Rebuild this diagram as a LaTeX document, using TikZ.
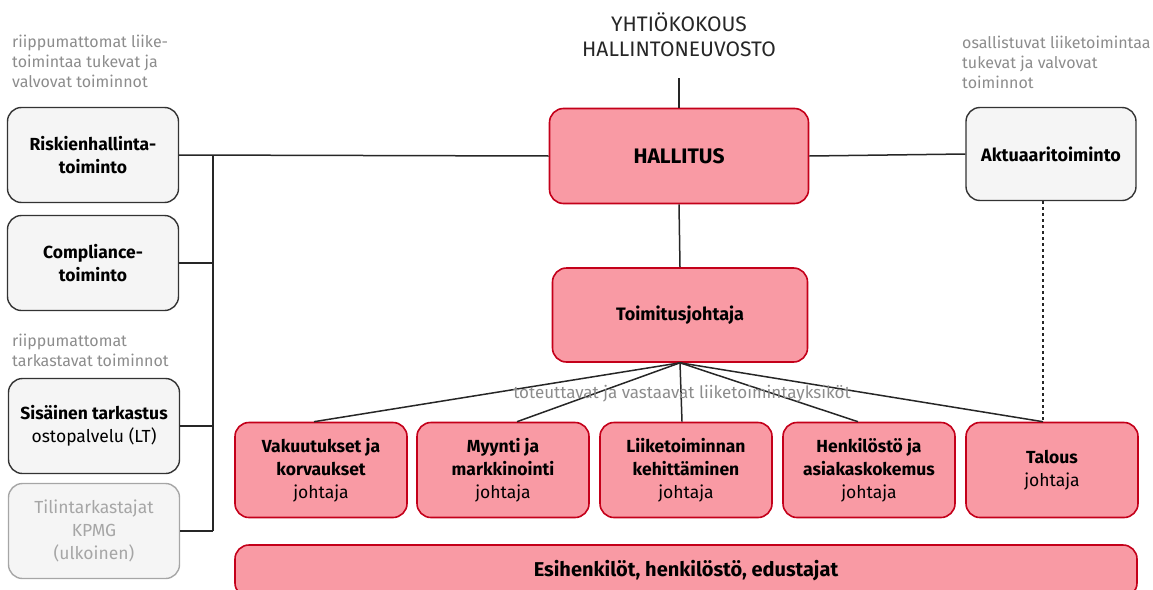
\documentclass[tikz,border=0pt]{standalone}
\usepackage{fontspec}
\setmainfont{Fira Sans}
\usetikzlibrary{positioning}
\definecolor{unitfill}{HTML}{F99AA4}
\definecolor{unitdraw}{HTML}{C4001A}
\definecolor{supfill}{HTML}{F5F5F5}
\definecolor{notegray}{HTML}{8C8C8C}
\definecolor{extgray}{HTML}{A6A6A6}
\newcommand\boxfont{\fontsize{17.5}{23}\selectfont}
\newcommand\notefont{\fontsize{16}{20}\selectfont}
\begin{document}
\begin{tikzpicture}[x=1pt,y=-1pt,
  unit/.style={draw=unitdraw,fill=unitfill,line width=1.6pt,rounded corners=14pt,
    align=center,minimum width=172pt,minimum height=95pt,font=\boxfont},
  side/.style={draw=black!80,fill=supfill,line width=1.4pt,rounded corners=14pt,
    align=center,minimum width=171pt,minimum height=95pt,font=\boxfont},
  note/.style={text=notegray,align=left,font=\notefont,inner sep=0pt},
  link/.style={draw=black!85,line width=1.5pt}]
\useasboundingbox (0,0) rectangle (1153,589);
% top
\node[align=center,font=\fontsize{21}{25}\selectfont,text=black!85,inner sep=0pt] (meeting) at (679,35) {YHTIÖKOKOUS\\HALLINTONEUVOSTO};
\coordinate (meetfoot) at (679,78);
\node[unit,minimum width=259pt,font=\fontsize{21}{22}\selectfont\bfseries] (board) at (679,156) {HALLITUS};
\node[unit,minimum width=255pt,minimum height=94pt,font=\fontsize{18}{22}\selectfont\bfseries] (ceo) at (680,315) {Toimitusjohtaja};
\node[side,minimum width=170pt,minimum height=93pt,font=\fontsize{18}{22}\selectfont] (actuary) at (1051,154) {\bfseries Aktuaaritoiminto};
% left side
\node[side] (risk) at (93,155) {\bfseries Riskienhallinta-\\\bfseries toiminto};
\node[side] (compl) at (93,263) {\bfseries Compliance-\\\bfseries toiminto};
\node[side] (audit) at (94,426) {\bfseries Sisäinen tarkastus\\ostopalvelu (LT)};
\node[side,draw=extgray,text=extgray] (extaudit) at (94,531) {Tilintarkastajat\\KPMG\\(ulkoinen)};
% notes
\node[note,anchor=north west] (noteleft) at (12,35) {riippumattomat liike-\\toimintaa tukevat ja\\valvovat toiminnot};
\node[note,anchor=north west] (noteaudit) at (12,334) {riippumattomat\\tarkastavat toiminnot};
\node[note,anchor=north west] (noteright) at (962,36) {osallistuvat liiketoimintaa\\tukevat ja valvovat\\toiminnot};
% business units
\node[unit] (insur) at (321,470) {\bfseries Vakuutukset ja\\\bfseries korvaukset\\johtaja};
\node[unit] (sales) at (503,470) {\bfseries Myynti ja\\\bfseries markkinointi\\johtaja};
\node[unit] (devel) at (686,470) {\bfseries Liiketoiminnan\\\bfseries kehittäminen\\johtaja};
\node[unit] (people) at (869,470) {\bfseries Henkilöstö ja\\\bfseries asiakaskokemus\\johtaja};
\node[unit] (finance) at (1052,470) {\bfseries Talous\\johtaja};
\node[unit,minimum width=902pt,minimum height=52pt,font=\fontsize{20}{22}\selectfont\bfseries] (staff) at (686,571) {Esihenkilöt, henkilöstö, edustajat};
% connectors
\draw[link] (meetfoot) -- (board.north);
\draw[link] (board.south) -- (ceo.north);
\draw[link] (board.east) -- (actuary.west);
\draw[link] (risk.east) -- (board.west);
\coordinate (bustop) at (213,155);
\coordinate (busbot) at (213,531);
\draw[link] (bustop) -- (busbot);
\draw[link] (compl.east) -- (compl.east -| bustop);
\draw[link] (audit.east) -- (audit.east -| bustop);
\draw[link] (extaudit.east) -- (busbot);
\foreach \u/\dx in {insur/-7,sales/14,devel/-4,people/-11,finance/-9}
  \draw[link] (ceo.south) -- ([xshift=\dx pt]\u.north);
\draw[link,dashed] ([xshift=-8pt]actuary.south) -- ([xshift=-9pt]finance.north);
\node[note,font=\fontsize{17}{20}\selectfont] (unitnote) at (682,394) {toteuttavat ja vastaavat liiketoimintayksiköt};
\end{tikzpicture}
\end{document}
